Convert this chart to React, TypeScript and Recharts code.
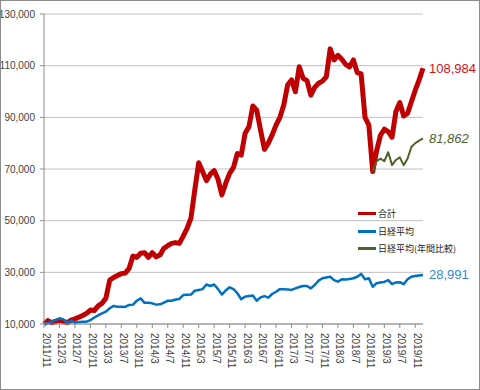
import React from 'react';
import { LineChart, Line, XAxis, YAxis, CartesianGrid, Legend } from 'recharts';

// monthly categories 2011/11 .. 2020/1
const firstYear = 2011;
const firstMonth = 11;
const monthCount = 99;
const months: string[] = [];
for (let i = 0; i < monthCount; i++) {
    const m = firstMonth - 1 + i;
    months.push(`${firstYear + Math.floor(m / 12)}/${(m % 12) + 1}`);
}

const total = [
    10000, 11300, 10500, 11000, 11500, 11000, 10500, 11500, 12000, 12600,
    13300, 14100, 15400, 15200, 17000, 18000, 20000, 27000, 28000, 28800,
    29500, 29700, 31500, 36300, 35800, 37400, 37600, 35800, 37600, 36000,
    36700, 39300, 40300, 41200, 41500, 41200, 44000, 47000, 51000, 62000,
    72400, 69000, 65500, 68000, 69400, 66000, 60000, 64500, 68300, 70600,
    76000, 75400, 83800, 86400, 94400, 92800, 85000, 77600, 80000, 83200,
    87000, 90000, 94800, 102500, 104500, 99900, 109600, 105100, 104200, 98600,
    101600, 103200, 104000, 105700, 116500, 112200, 114000, 112500, 110500, 109500,
    112200, 107300, 106800, 90000, 87000, 69000, 77000, 83000, 85400, 84500,
    82300, 92300, 95700, 90500, 91500, 96000, 100500, 104500, 108984,
];

const nikkei = [
    10000, 10300, 11000, 11500, 12200, 11800, 10500, 11300, 10500, 10800,
    10900, 10900, 11500, 12500, 13300, 14100, 14800, 16100, 17000, 16700,
    16700, 16600, 17400, 17500, 19000, 19900, 18200, 18200, 18000, 17500,
    17600, 18300, 19000, 19000, 19500, 19700, 21200, 21300, 21400, 22900,
    23200, 23500, 25300, 24700, 25300, 23500, 21400, 23000, 24200, 23500,
    21900, 19600, 20600, 20800, 21000, 19000, 20300, 20800, 20200, 21600,
    22500, 23500, 23500, 23400, 23200, 23800, 24300, 24700, 24700, 23800,
    25100, 26800, 27700, 28000, 28300, 27000, 26400, 27300, 27200, 27400,
    27700, 28300, 29400, 27300, 27700, 24400, 25800, 26100, 26300, 27000,
    25400, 26100, 26200, 25400, 27300, 28300, 28600, 28800, 28991,
];

// 日経平均(年間比較) starts at 2018/12
const annualStart = '2018/12';
const annual = [69000, 73000, 74000, 73000, 76500, 71500, 73500, 74500, 71500, 74000, 78500, 80000, 81000, 81862];

const yTicks = [10000, 30000, 50000, 70000, 90000, 110000, 130000];

const startIdx = months.indexOf(annualStart);
const data = months.map((month, i) => ({
    month,
    total: total[i],
    nikkei: nikkei[i],
    annual: i >= startIdx ? annual[i - startIdx] : null,
}));

const lastIdx = months.length - 1;
const fmt = (v: number) => v.toLocaleString('en-US');

const MonthTick = (props: any) => {
    const { x, y, payload } = props;
    return (
        <g transform={`translate(${x},${y})`}>
            <text transform="rotate(90)" x={5} y={1.5} textAnchor="start" fontSize={10} fill="#404040" fontFamily="Liberation Sans">
                {payload.value}
            </text>
        </g>
    );
};

const endLabel = (color: string, italic?: boolean) => (props: any) => {
    const { x, y, index, value } = props;
    if (index !== lastIdx || value == null) return <g />;
    return (
        <text x={x + 6} y={y} dy="0.35em" fontSize={13} fill={color} fontStyle={italic ? 'italic' : 'normal'} fontFamily="Liberation Sans">
            {fmt(value)}
        </text>
    );
};

const legendItems = [
    { name: '合計', color: '#c00000' },
    { name: '日経平均', color: '#0070c0' },
    { name: '日経平均(年間比較)', color: '#4f6228' },
];

const ChartLegend = () => (
    <div style={{ fontFamily: '"Noto Sans CJK JP"', fontSize: 9, color: '#222' }}>
        {legendItems.map((it) => (
            <div key={it.name} style={{ display: 'flex', alignItems: 'center', height: 17.5 }}>
                <div style={{ width: 18, height: 3, background: it.color, marginRight: 2 }} />
                <span>{it.name}</span>
            </div>
        ))}
    </div>
);

const App: React.FC = () => {
    return (
        <div style={{ position: 'absolute', left: 0, top: 0, width: 480, height: 390, background: '#fff' }}>
            <LineChart width={480} height={390} data={data} margin={{ top: 14, right: 57, left: 0, bottom: 6 }}>
                <CartesianGrid vertical={false} stroke="#c0c0c0" />
                <XAxis
                    dataKey="month"
                    interval={3}
                    height={60}
                    tickSize={4}
                    tickMargin={0}
                    stroke="#8c8c8c"
                    tick={<MonthTick />}
                />
                <YAxis
                    width={44}
                    domain={[10000, 130000]}
                    ticks={yTicks}
                    tickSize={4}
                    tickMargin={5}
                    stroke="#8c8c8c"
                    tickFormatter={fmt}
                    tick={{ fill: '#404040', fontSize: 10, fontFamily: 'Liberation Sans' }}
                />
                <Legend
                    layout="vertical"
                    align="center"
                    verticalAlign="middle"
                    content={<ChartLegend />}
                    wrapperStyle={{ left: 358, top: 205, width: 120 }}
                />
                <Line dataKey="total" name="合計" stroke="#c00000" strokeWidth={5} dot={false} strokeLinejoin="round" isAnimationActive={false} label={endLabel('#d01010')} />
                <Line dataKey="nikkei" name="日経平均" stroke="#0070c0" strokeWidth={2.5} dot={false} strokeLinejoin="round" isAnimationActive={false} label={endLabel('#2f8ad6')} />
                <Line dataKey="annual" name="日経平均(年間比較)" stroke="#4f6228" strokeWidth={2} dot={false} strokeLinejoin="round" isAnimationActive={false} label={endLabel('#4f6228', true)} />
            </LineChart>
            <div style={{ position: 'absolute', left: 0, top: 0, width: 480, height: 390, border: '1px solid #8c8c8c', boxSizing: 'border-box', pointerEvents: 'none' }} />
        </div>
    );
};

export default App;
